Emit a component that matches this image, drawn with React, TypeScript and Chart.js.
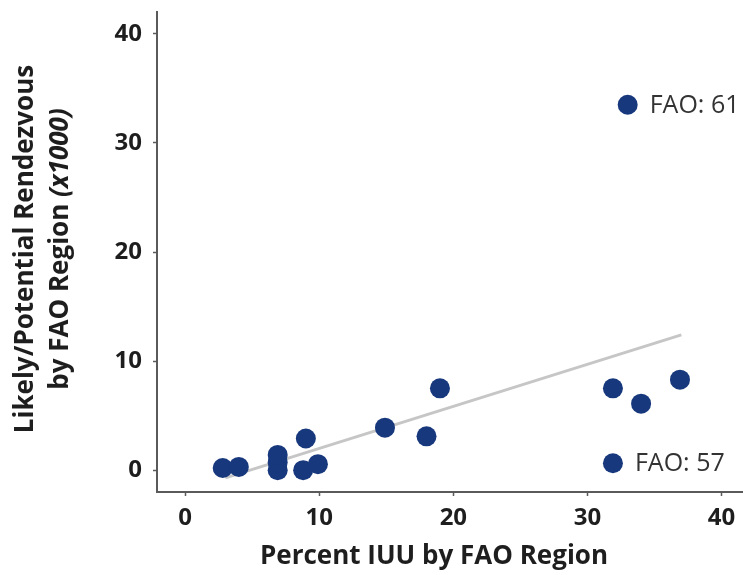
import React, { useEffect, useRef } from "react";
import { Chart, registerables } from "chart.js";

Chart.register(...registerables);

const xValues = [2.8, 4.0, 6.9, 6.9, 6.9, 9.0, 8.8, 9.9, 14.9, 18.0, 19.0, 31.9, 31.9, 33.0, 34.0, 36.9];
const yValues = [0.2, 0.3, 0.0, 0.7, 1.4, 2.9, 0.0, 0.55, 3.9, 3.1, 7.5, 7.5, 0.64, 33.5, 6.1, 8.3];
const pointLabels = ["", "", "", "", "", "", "", "", "", "", "", "", "FAO: 57", "FAO: 61", "", ""];
const trendX = [3, 37];
const trendY = [-0.7, 12.4];
const xTicks = [0, 10, 20, 30, 40];
const yTicks = [0, 10, 20, 30, 40];
const xTitle = "Percent IUU by FAO Region";
const yTitleLine1 = "Likely/Potential Rendezvous";
const yTitleLine2a = "by FAO Region ";
const yTitleLine2b = "(x1000)";

const FONT = '"Open Sans", "DejaVu Sans", sans-serif';
const TEXT = "#1e1e1e";
const AXIS = "#5a5a5a";
const POINT = "#17387c";

const labelPlugin = {
  id: "customText",
  afterDatasetsDraw(chart: any) {
    const ctx = chart.ctx;
    const meta = chart.getDatasetMeta(0);
    ctx.save();
    ctx.fillStyle = "#333";
    ctx.font = `25px ${FONT}`;
    ctx.textAlign = "left";
    ctx.textBaseline = "middle";
    pointLabels.forEach((t, i) => {
      if (!t) return;
      const el = meta.data[i];
      ctx.fillText(t, el.x + 22, el.y + 1);
    });
    ctx.restore();
  },
  afterDraw(chart: any) {
    const ctx = chart.ctx;
    ctx.save();
    ctx.fillStyle = TEXT;
    ctx.font = `bold 26px ${FONT}`;
    ctx.textAlign = "center";
    ctx.textBaseline = "middle";
    ctx.fillText(xTitle, 434, 557);
    ctx.translate(26, 249);
    ctx.rotate(-Math.PI / 2);
    ctx.fillText(yTitleLine1, 0, 0);
    ctx.textAlign = "left";
    ctx.font = `bold 26px ${FONT}`;
    const wa = ctx.measureText(yTitleLine2a).width;
    ctx.font = `italic bold 26px ${FONT}`;
    const wb = ctx.measureText(yTitleLine2b).width;
    const start = -(wa + wb) / 2;
    ctx.font = `bold 26px ${FONT}`;
    ctx.fillText(yTitleLine2a, start, 35);
    ctx.font = `italic bold 26px ${FONT}`;
    ctx.fillText(yTitleLine2b, start + wa, 35);
    ctx.restore();
  },
};

export default function App() {
  const ref = useRef<HTMLCanvasElement>(null);
  useEffect(() => {
    if (!ref.current) return;
    const chart = new Chart(ref.current, {
      type: "scatter",
      data: {
        datasets: [
          {
            type: "scatter",
            data: xValues.map((x, i) => ({ x, y: yValues[i] })),
            backgroundColor: POINT,
            borderWidth: 0,
            pointRadius: 10,
            order: 0,
          },
          {
            type: "line",
            data: trendX.map((x, i) => ({ x, y: trendY[i] })),
            borderColor: "#c6c6c6",
            borderWidth: 3,
            pointRadius: 0,
            fill: false,
            order: 1,
          } as any,
        ],
      },
      options: {
        responsive: false,
        animation: false,
        layout: { autoPadding: false, padding: { top: 12, right: 0, bottom: 0, left: 0 } },
        plugins: { legend: { display: false }, tooltip: { enabled: false } },
        scales: {
          x: {
            type: "linear",
            min: -2.1,
            max: 41.6,
            afterBuildTicks: (s: any) => {
              s.ticks = xTicks.map((v) => ({ value: v }));
            },
            afterFit: (s: any) => {
              s.height = 83;
              s.paddingLeft = 0;
              s.paddingRight = 0;
            },
            grid: { drawOnChartArea: false, drawTicks: true, tickLength: 4, color: AXIS, tickWidth: 1.5 },
            border: { color: AXIS, width: 2 },
            ticks: { color: TEXT, font: { family: FONT, size: 24, weight: "bold" }, padding: 8, maxRotation: 0 },
          },
          y: {
            type: "linear",
            min: -2,
            max: 42,
            afterBuildTicks: (s: any) => {
              s.ticks = yTicks.map((v) => ({ value: v }));
            },
            afterFit: (s: any) => {
              s.width = 157;
              s.paddingTop = 0;
              s.paddingBottom = 0;
            },
            grid: { drawOnChartArea: false, drawTicks: true, tickLength: 4, color: AXIS, tickWidth: 1.5 },
            border: { color: AXIS, width: 2 },
            ticks: { color: TEXT, font: { family: FONT, size: 24, weight: "bold" }, padding: 11 },
          },
        },
      },
      plugins: [labelPlugin],
    });
    return () => chart.destroy();
  }, []);
  return (
    <div style={{ position: "absolute", left: 0, top: 0, width: 743, height: 575, background: "#fff" }}>
      <canvas ref={ref} width={743} height={575} />
    </div>
  );
}
